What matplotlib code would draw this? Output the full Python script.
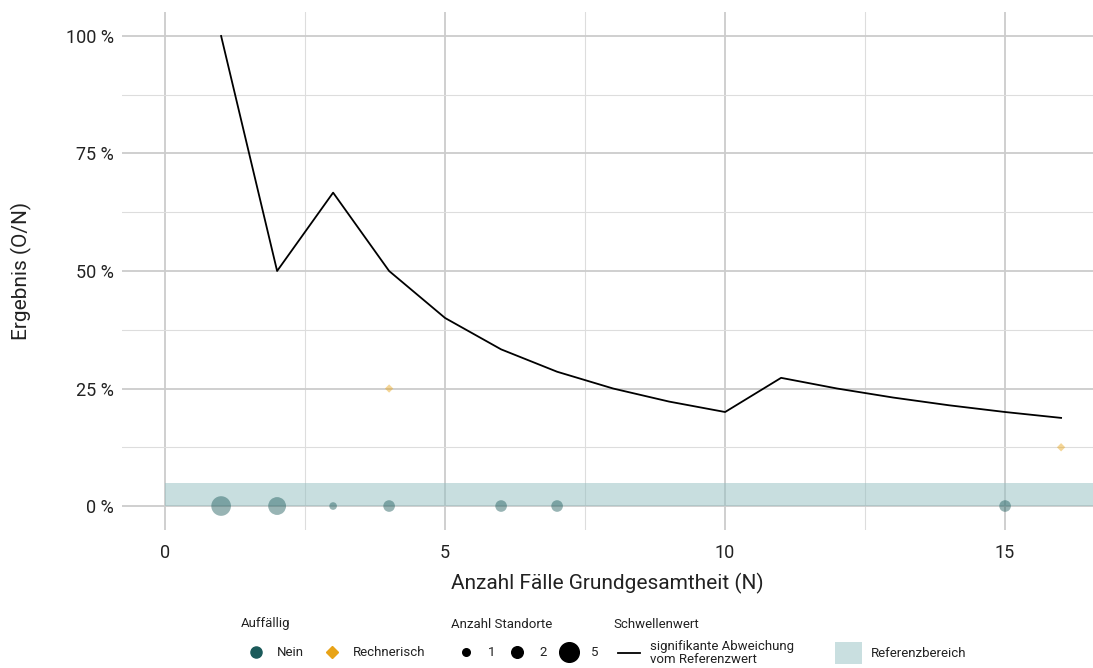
import matplotlib
matplotlib.use("Agg")
import matplotlib.pyplot as plt
from matplotlib.lines import Line2D
from matplotlib.patches import Patch
import numpy as np

plt.rcParams['font.family'] = ['Roboto', 'DejaVu Sans']

# threshold line
thr_n = [1, 2, 3, 4, 5, 6, 7, 8, 9, 10, 11, 12, 13, 14, 15, 16]
thr_val = [1.0, 0.5, 0.6667, 0.5, 0.4, 0.3333, 0.2857, 0.25, 0.2222, 0.2,
           0.2727, 0.25, 0.2308, 0.2143, 0.2, 0.1875]

# points "Nein"
nein_n = [1, 2, 3, 4, 6, 7, 15]
nein_val = [0, 0, 0, 0, 0, 0, 0]
nein_count = [5, 4, 1, 2, 2, 2, 2]

# points "Rechnerisch"
rech_n = [4, 16]
rech_val = [0.25, 0.125]
rech_count = [1, 1]

ref_low, ref_high = 0.0, 0.05

yticks = [0, 0.25, 0.5, 0.75, 1.0]
ytick_labels = ["0 %", "25 %", "50 %", "75 %", "100 %"]
xticks = [0, 5, 10, 15]

teal = "#1b5a5a"
orange = "#e8a317"
band_rgb = "#93bfc1"
band_alpha = 0.5
band_legend = "#c9dfe0"
txt = '#222222'

def size_of(c):
    return {1: 30, 2: 70, 4: 165, 5: 200}.get(c, 30 + 40 * (c - 1))

W, H = 1093, 668
fig = plt.figure(figsize=(W / 100, H / 100), dpi=100)
ax = fig.add_axes([122 / W, 1 - 530 / H, (1093 - 122) / W, (530 - 12) / H])

xmin, xmax = -0.77, 16.57
ymin, ymax = -0.051, 1.051
ax.set_xlim(xmin, xmax)
ax.set_ylim(ymin, ymax)

ax.axhspan(ref_low, ref_high, xmin=(0 - xmin) / (xmax - xmin), xmax=1,
           color=band_rgb, alpha=band_alpha, zorder=2, lw=0)

ax.set_xticks(xticks)
ax.set_xticks([2.5, 7.5, 12.5], minor=True)
ax.set_yticks(yticks)
ax.set_yticklabels(ytick_labels)
ax.set_yticks([0.125, 0.375, 0.625, 0.875], minor=True)
ax.grid(True, which='major', color='#cccccc', lw=1.3, zorder=0)
ax.grid(True, which='minor', color='#dddddd', lw=0.8, zorder=0)
ax.set_axisbelow(True)
for s in ax.spines.values():
    s.set_visible(False)
ax.tick_params(which='both', length=0, labelsize=13, colors=txt, pad=6)
ax.tick_params(axis='x', pad=10)

ax.plot(thr_n, thr_val, color='black', lw=1.3, zorder=3)
ax.scatter(nein_n, nein_val, s=[size_of(c) for c in nein_count], color=teal,
           alpha=0.45, lw=0, zorder=4)
ax.scatter(rech_n, rech_val, s=[18 for c in rech_count], marker='D',
           color=orange, alpha=0.45, lw=0, zorder=4)

ax.set_xlabel("Anzahl Fälle Grundgesamtheit (N)", fontsize=15, color=txt, labelpad=8)
ax.set_ylabel("Ergebnis (O/N)", fontsize=15, color=txt, labelpad=24)

# legend titles
ty = 1 - 624 / H
for x, t in [(241, "Auffällig"), (451, "Anzahl Standorte"), (613, "Schwellenwert")]:
    fig.text(x / W, ty, t, fontsize=9.5, color=txt, ha='left', va='center')

ly = 1 - 653 / H
lkw = dict(frameon=False, fontsize=9.5, loc='center left', borderaxespad=0,
           borderpad=0)
h1 = [Line2D([], [], marker='o', ls='', color=teal, markersize=8),
      Line2D([], [], marker='D', ls='', color=orange, markersize=6)]
leg1 = fig.legend(h1, ["Nein", "Rechnerisch"], ncol=2,
                  bbox_to_anchor=(248 / W, ly), handlelength=1.2,
                  handletextpad=1.0, columnspacing=1.5, **lkw)
h2 = [Line2D([], [], marker='o', ls='', color='black', markersize=np.sqrt(size_of(c)))
      for c in [1, 2, 5]]
leg2 = fig.legend(h2, ["1", "2", "5"], ncol=3,
                  bbox_to_anchor=(458 / W, ly), handlelength=1.2,
                  handletextpad=1.05, columnspacing=1.1, **lkw)
h3 = [Line2D([], [], color='black', lw=1.3)]
leg3 = fig.legend(h3, ["signifikante Abweichung\nvom Referenzwert"],
                  bbox_to_anchor=(618 / W, ly), handlelength=1.67,
                  handletextpad=0.75, **lkw)
h4 = [Patch(facecolor=band_legend, edgecolor='none')]
leg4 = fig.legend(h4, ["Referenzbereich"],
                  bbox_to_anchor=(835 / W, ly), handlelength=2.05, handleheight=2.1,
                  handletextpad=0.7, **lkw)
for lg in (leg1, leg2, leg3, leg4):
    for t in lg.get_texts():
        t.set_color(txt)
        t.set_linespacing(1.0)

fig.savefig("out.png", dpi=100)
